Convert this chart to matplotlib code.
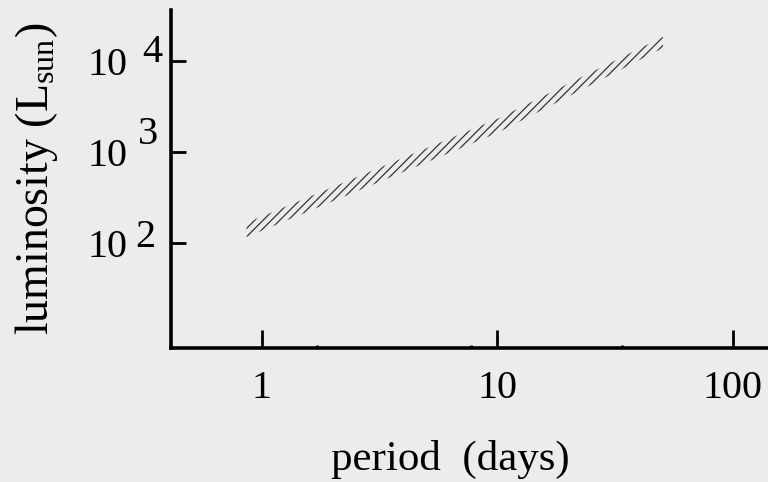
import matplotlib
matplotlib.use("Agg")
import matplotlib.pyplot as plt
from matplotlib.ticker import FixedLocator, FixedFormatter, NullFormatter

# ---- data ----
period = [0.86, 10.0, 50.5]          # days
lum_low = [116, 1620, 13900]         # L_sun, lower edge of band
lum_high = [166, 2310, 18400]        # L_sun, upper edge of band

x_ticks = [1, 10, 100]
x_tick_labels = ["1", "10", "100"]
x_minor_ticks = [1.71, 7.7, 33.8]
y_ticks = [1e2, 1e3, 1e4]
y_tick_labels = ["10", "10", "10"]
y_exponents = ["2", "3", "4"]

# ---- style ----
BG = "#ececec"
plt.rcParams["font.family"] = ["Liberation Serif", "DejaVu Serif"]
plt.rcParams["mathtext.fontset"] = "custom"
plt.rcParams["mathtext.rm"] = "Liberation Serif"
plt.rcParams["mathtext.it"] = "Liberation Serif:italic"
plt.rcParams["mathtext.bf"] = "Liberation Serif:bold"
plt.rcParams["hatch.linewidth"] = 0.9

fig = plt.figure(figsize=(7.68, 4.82), dpi=100, facecolor=BG)
W, H = 768, 482
left, right, top, bottom = 171, 768, 10, 348
ax = fig.add_axes([left / W, (H - bottom) / H, (right - left) / W, (bottom - top) / H])
ax.set_facecolor(BG)

ax.set_xscale("log")
ax.set_yscale("log")
ax.set_xlim(0.411, 141)
ax.set_ylim(7.0, 36300)

ax.fill_between(period, lum_low, lum_high, facecolor="none",
                edgecolor="#333333", hatch="////", linewidth=0)

for s in ("top", "right"):
    ax.spines[s].set_visible(False)
for s in ("left", "bottom"):
    ax.spines[s].set_linewidth(2.6)
    ax.spines[s].set_color("black")

ax.xaxis.set_major_locator(FixedLocator(x_ticks))
ax.xaxis.set_major_formatter(FixedFormatter(x_tick_labels))
ax.xaxis.set_minor_locator(FixedLocator(x_minor_ticks))
ax.xaxis.set_minor_formatter(NullFormatter())
ax.yaxis.set_major_locator(FixedLocator(y_ticks))
ax.yaxis.set_major_formatter(FixedFormatter(y_tick_labels))
ax.yaxis.set_minor_locator(FixedLocator([]))

ax.tick_params(axis="x", which="major", direction="in", length=13, width=2,
               pad=16, labelsize=29, color="black")
ax.tick_params(axis="x", which="minor", direction="in", length=2, width=2)
ax.tick_params(axis="y", which="major", direction="in", length=11, width=2,
               pad=31, labelsize=29, color="black")

# exponents of the y tick labels (full-size, raised)
exp_offsets = [(-25.9, -2.9), (-23.8, 5.8), (-20.9, -0.7)]
for yv, e, (dx, dy) in zip(y_ticks, y_exponents, exp_offsets):
    ax.annotate(e, xy=(0, yv), xycoords=("axes fraction", "data"),
                xytext=(dx, dy), textcoords="offset points",
                ha="left", va="baseline", fontsize=29, annotation_clip=False)

ax.set_xlabel("period  (days)", fontsize=31)
ax.xaxis.set_label_coords((450 - left) / (right - left), (bottom - 440) / (bottom - top))
ax.set_ylabel(r"luminosity (L$_{\mathrm{sun}}$)", fontsize=33)
ax.yaxis.set_label_coords((60 - left) / (right - left), 0.5)

fig.savefig("out.png", dpi=100, facecolor=BG)
